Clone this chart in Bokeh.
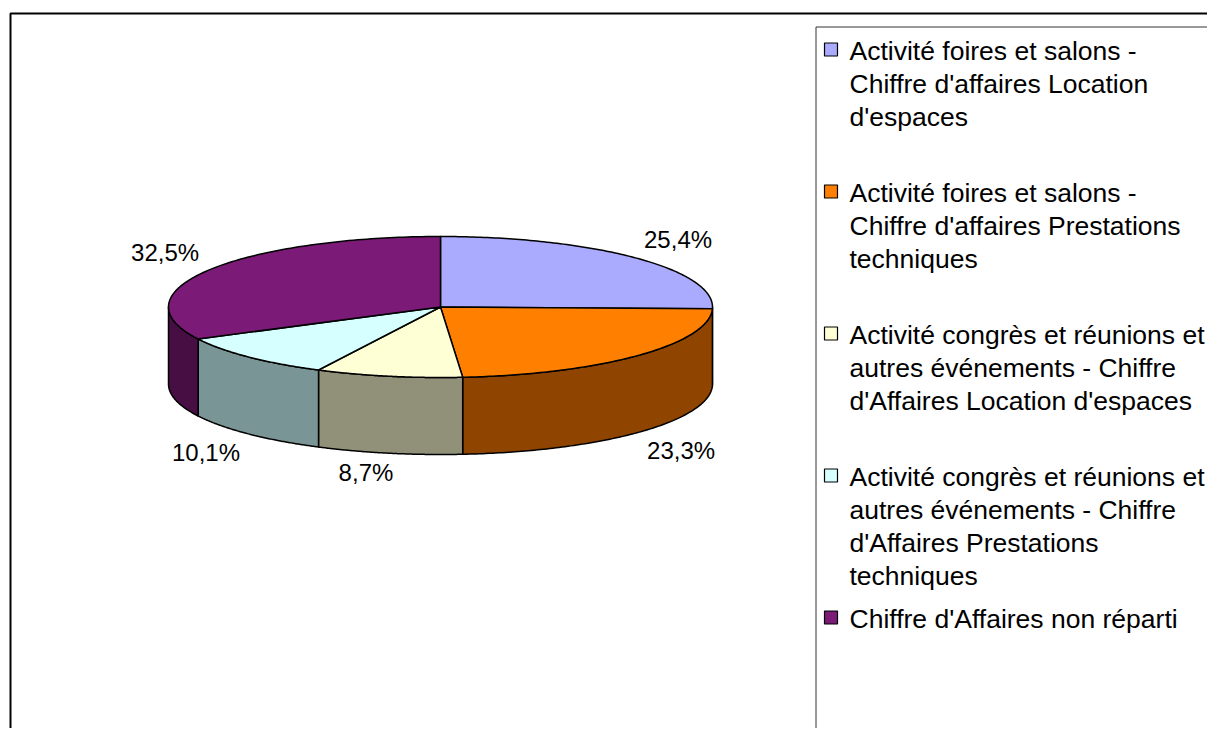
import numpy as np
from bokeh.plotting import figure
from bokeh.models import Range1d
from bokeh.embed import file_html
from bokeh.resources import INLINE
from bokeh.core.properties import value

# ---------------- data ----------------
categories = [
    "Activité foires et salons - Chiffre d'affaires Location d'espaces",
    "Activité foires et salons - Chiffre d'affaires Prestations techniques",
    "Activité congrès et réunions et autres événements - Chiffre d'Affaires Location d'espaces",
    "Activité congrès et réunions et autres événements - Chiffre d'Affaires Prestations techniques",
    "Chiffre d'Affaires non réparti",
]
legend_lines = [
    ["Activité foires et salons -", "Chiffre d'affaires Location", "d'espaces"],
    ["Activité foires et salons -", "Chiffre d'affaires Prestations", "techniques"],
    ["Activité congrès et réunions et", "autres événements - Chiffre", "d'Affaires Location d'espaces"],
    ["Activité congrès et réunions et", "autres événements - Chiffre", "d'Affaires Prestations", "techniques"],
    ["Chiffre d'Affaires non réparti"],
]
shares = [25.4, 23.3, 8.7, 10.1, 32.5]
pct_labels = ["25,4%", "23,3%", "8,7%", "10,1%", "32,5%"]
top_colors = ["#AAAAFF", "#FF8000", "#FFFFD6", "#D6FFFF", "#7B1B77"]
side_colors = ["#5F5F8F", "#8F4400", "#919179", "#7A9595", "#470E44"]

# ---------------- layout ----------------
W, H = 1207, 728
FONT = value("Liberation Sans")

p = figure(width=W, height=H, output_backend="svg", toolbar_location=None,
           x_range=Range1d(0, W), y_range=Range1d(H, 0),
           x_axis_type=None, y_axis_type=None, min_border=0)
p.grid.visible = False
p.outline_line_color = None
p.background_fill_color = "white"

# outer chart frame (extends beyond window)
p.line(x=[10, 10, 1400], y=[1400, 13, 13], line_color="black", line_width=2)

# legend box
p.line(x=[1400, 815.5, 815.5, 1400], y=[26.5, 26.5, 737.5, 737.5],
       line_color="#333333", line_width=1)

# ---------------- 3D pie ----------------
cx, cy, rx, ry, depth = 440.0, 306.5, 272.0, 70.5, 77.0
fr = np.array(shares) / sum(shares)
cum = np.concatenate([[0], np.cumsum(fr)])
a_start = 90 - 360 * cum[:-1]   # math angles (deg), clockwise slices from 12 o'clock
a_end = 90 - 360 * cum[1:]


def arc(t0, t1, n=120, dy=0.0):
    t = np.radians(np.linspace(t0, t1, n))
    return cx + rx * np.cos(t), cy - ry * np.sin(t) + dy


side_xs, side_ys, side_fill = [], [], []
for i in range(len(shares)):
    lo, hi = a_end[i], a_start[i]
    for shift in (0, -360, 360):
        s_lo = max(lo + shift, -180)
        s_hi = min(hi + shift, 0)
        if s_hi - s_lo > 0.05:
            tx, ty = arc(s_hi, s_lo)
            bx, by = arc(s_lo, s_hi, dy=depth)
            side_xs.append(list(np.concatenate([tx, bx])))
            side_ys.append(list(np.concatenate([ty, by])))
            side_fill.append(side_colors[i])

p.patches(side_xs, side_ys, fill_color=side_fill, line_color="black",
          line_width=1.5, line_join="round")

top_xs, top_ys = [], []
for i in range(len(shares)):
    ax, ay = arc(a_start[i], a_end[i])
    top_xs.append([cx] + list(ax))
    top_ys.append([cy] + list(ay))
p.patches(top_xs, top_ys, fill_color=top_colors, line_color="black",
          line_width=1.5, line_join="round")

# percentage labels: just outside the rim at each slice's mid-angle
mid = np.radians((a_start + a_end) / 2)
ex = cx + rx * np.cos(mid)
ey = cy - ry * np.sin(mid) + np.where(np.sin(mid) < 0, depth, 0)
lx = ex + 44 * np.tanh(3 * np.cos(mid))
ly = ey - 19 * np.tanh(3 * np.sin(mid))
p.text(x=lx, y=ly, text=pct_labels, text_font=FONT, text_font_size="24px",
       text_color="black", text_align="center", text_baseline="middle")

# ---------------- legend ----------------
line_h = 33
row_h = max(len(l) for l in legend_lines) * line_h + 10
y0 = 50
tx, ty, tt = [], [], []
for i, lines in enumerate(legend_lines):
    yc = y0 + i * row_h
    for j, s in enumerate(lines):
        tx.append(849)
        ty.append(yc + j * line_h)
        tt.append(s)
p.rect(x=[830.5] * len(legend_lines), y=[y0 - 1 + i * row_h for i in range(len(legend_lines))],
       width=13, height=13, fill_color=top_colors, line_color="black", line_width=1.2)
p.text(x=tx, y=ty, text=tt, text_font=FONT, text_font_size="26.5px",
       text_color="black", text_align="left", text_baseline="middle")

open("out.html", "w").write(file_html(p, INLINE))
